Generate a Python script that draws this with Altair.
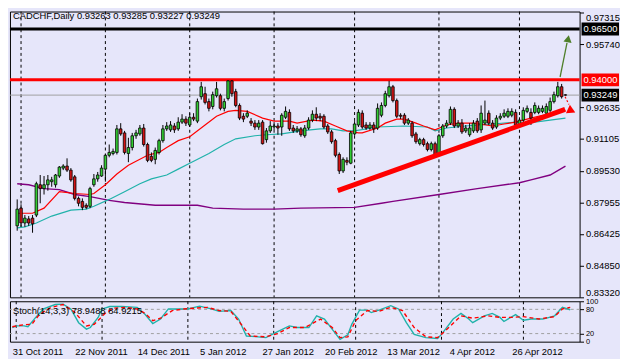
import altair as alt
import pandas as pd

# ---------------- data ----------------
opens = [
    0.8682, 0.8769, 0.8696, 0.8716, 0.8720, 0.8735, 0.8884, 0.8865, 0.8884, 0.8899,
    0.8884, 0.8927, 0.8966, 0.8976, 0.8956, 0.8923, 0.8817, 0.8802, 0.8783, 0.8778,
    0.8884, 0.8913, 0.8927, 0.8961, 0.9029, 0.9038, 0.9043, 0.9159, 0.9139, 0.9038,
    0.9067, 0.9125, 0.9134, 0.9163, 0.9082, 0.9024, 0.9009, 0.9043, 0.9101, 0.9159,
    0.9154, 0.9173, 0.9159, 0.9192, 0.9207, 0.9178, 0.9216, 0.9197, 0.9317, 0.9332,
    0.9293, 0.9269, 0.9322, 0.9322, 0.9260, 0.9308, 0.9395, 0.9342, 0.9274, 0.9221,
    0.9221, 0.9197, 0.9187, 0.9168, 0.9192, 0.9106, 0.9149, 0.9168, 0.9173, 0.9168,
    0.9216, 0.9240, 0.9163, 0.9149, 0.9159, 0.9125, 0.9163, 0.9202, 0.9231, 0.9221,
    0.9221, 0.9173, 0.9144, 0.9101, 0.9033, 0.8952, 0.9004, 0.8990, 0.9134, 0.9178,
    0.9236, 0.9178, 0.9163, 0.9178, 0.9163, 0.9226, 0.9274, 0.9322, 0.9366, 0.9298,
    0.9226, 0.9226, 0.9187, 0.9187, 0.9134, 0.9086, 0.9106, 0.9086, 0.9057, 0.9086,
    0.9033, 0.9125, 0.9173, 0.9187, 0.9255, 0.9173, 0.9187, 0.9149, 0.9130, 0.9149,
    0.9197, 0.9154, 0.9187, 0.9236, 0.9187, 0.9168, 0.9212, 0.9221, 0.9221, 0.9226,
    0.9240, 0.9173, 0.9202, 0.9245, 0.9240, 0.9240, 0.9240, 0.9245, 0.9236, 0.9250,
    0.9293, 0.9322, 0.9366, 0.93263,
]
highs = [
    0.8812, 0.8788, 0.8735, 0.8730, 0.8735, 0.8899, 0.8932, 0.8927, 0.8932, 0.8923,
    0.8937, 0.8976, 0.8985, 0.9014, 0.8966, 0.8932, 0.8826, 0.8817, 0.8793, 0.8874,
    0.8937, 0.8947, 0.8980, 0.9033, 0.9082, 0.9062, 0.9178, 0.9187, 0.9149, 0.9115,
    0.9139, 0.9154, 0.9178, 0.9183, 0.9091, 0.9043, 0.9067, 0.9110, 0.9178, 0.9192,
    0.9197, 0.9187, 0.9216, 0.9231, 0.9221, 0.9236, 0.9236, 0.9308, 0.9390, 0.9366,
    0.9308, 0.9342, 0.9390, 0.9332, 0.9308, 0.9399, 0.9399, 0.9356, 0.9284, 0.9236,
    0.9250, 0.9212, 0.9202, 0.9202, 0.9202, 0.9163, 0.9197, 0.9192, 0.9187, 0.9236,
    0.9269, 0.9255, 0.9178, 0.9173, 0.9168, 0.9178, 0.9216, 0.9250, 0.9265, 0.9236,
    0.9231, 0.9183, 0.9154, 0.9110, 0.9043, 0.9019, 0.9019, 0.9149, 0.9197, 0.9255,
    0.9250, 0.9192, 0.9192, 0.9192, 0.9284, 0.9289, 0.9346, 0.9395, 0.9375, 0.9308,
    0.9236, 0.9236, 0.9212, 0.9197, 0.9144, 0.9115, 0.9115, 0.9096, 0.9096, 0.9096,
    0.9134, 0.9183, 0.9202, 0.9269, 0.9265, 0.9202, 0.9207, 0.9178, 0.9187, 0.9202,
    0.9212, 0.9274, 0.9298, 0.9250, 0.9202, 0.9226, 0.9236, 0.9255, 0.9260, 0.9260,
    0.9255, 0.9216, 0.9265, 0.9274, 0.9260, 0.9289, 0.9274, 0.9274, 0.9284, 0.9313,
    0.9342, 0.9390, 0.9380, 0.93285,
]
lows = [
    0.8658, 0.8677, 0.8677, 0.8682, 0.8648, 0.8725, 0.8793, 0.8836, 0.8855, 0.8874,
    0.8870, 0.8918, 0.8956, 0.8947, 0.8899, 0.8807, 0.8778, 0.8759, 0.8764, 0.8769,
    0.8874, 0.8899, 0.8923, 0.8899, 0.9019, 0.9029, 0.9033, 0.9125, 0.9033, 0.8995,
    0.9053, 0.9110, 0.9125, 0.9072, 0.8995, 0.8995, 0.8985, 0.9033, 0.9091, 0.9149,
    0.9144, 0.9139, 0.9149, 0.9183, 0.9173, 0.9168, 0.9197, 0.9187, 0.9303, 0.9279,
    0.9245, 0.9255, 0.9313, 0.9250, 0.9245, 0.9298, 0.9317, 0.9265, 0.9202, 0.9192,
    0.9212, 0.9173, 0.9154, 0.9154, 0.9082, 0.9091, 0.9139, 0.9154, 0.9130, 0.9125,
    0.9207, 0.9149, 0.9139, 0.9139, 0.9120, 0.9115, 0.9154, 0.9192, 0.9197, 0.9197,
    0.9159, 0.9134, 0.9086, 0.9019, 0.8937, 0.8942, 0.8980, 0.8985, 0.9125, 0.9168,
    0.9159, 0.9154, 0.9154, 0.9139, 0.9154, 0.9216, 0.9265, 0.9313, 0.9289, 0.9212,
    0.9207, 0.9178, 0.9178, 0.9115, 0.9086, 0.9077, 0.9072, 0.9048, 0.9048, 0.9024,
    0.9029, 0.9115, 0.9163, 0.9178, 0.9163, 0.9163, 0.9134, 0.9139, 0.9120, 0.9139,
    0.9139, 0.9139, 0.9178, 0.9178, 0.9154, 0.9159, 0.9202, 0.9212, 0.9212, 0.9216,
    0.9168, 0.9163, 0.9192, 0.9236, 0.9178, 0.9231, 0.9231, 0.9236, 0.9226, 0.9240,
    0.9284, 0.9313, 0.9308, 0.93227,
]
closes = [
    0.8764, 0.8696, 0.8720, 0.8696, 0.8692, 0.8889, 0.8865, 0.8884, 0.8908, 0.8908,
    0.8932, 0.8971, 0.8976, 0.8956, 0.8908, 0.8817, 0.8793, 0.8773, 0.8773, 0.8865,
    0.8913, 0.8932, 0.8966, 0.9029, 0.9043, 0.9048, 0.9159, 0.9134, 0.9043, 0.9067,
    0.9125, 0.9139, 0.9163, 0.9082, 0.9004, 0.9004, 0.9053, 0.9101, 0.9159, 0.9173,
    0.9178, 0.9154, 0.9192, 0.9207, 0.9187, 0.9216, 0.9207, 0.9293, 0.9366, 0.9289,
    0.9260, 0.9327, 0.9356, 0.9260, 0.9293, 0.9395, 0.9332, 0.9274, 0.9212, 0.9207,
    0.9236, 0.9187, 0.9168, 0.9187, 0.9086, 0.9149, 0.9173, 0.9173, 0.9163, 0.9226,
    0.9245, 0.9159, 0.9149, 0.9159, 0.9130, 0.9163, 0.9202, 0.9231, 0.9212, 0.9212,
    0.9168, 0.9144, 0.9096, 0.9029, 0.8952, 0.9009, 0.8995, 0.9139, 0.9183, 0.9240,
    0.9168, 0.9163, 0.9178, 0.9159, 0.9260, 0.9274, 0.9332, 0.9366, 0.9298, 0.9221,
    0.9221, 0.9187, 0.9202, 0.9125, 0.9096, 0.9106, 0.9082, 0.9057, 0.9086, 0.9033,
    0.9125, 0.9173, 0.9187, 0.9255, 0.9173, 0.9187, 0.9144, 0.9163, 0.9163, 0.9187,
    0.9149, 0.9236, 0.9202, 0.9187, 0.9163, 0.9212, 0.9221, 0.9236, 0.9245, 0.9245,
    0.9178, 0.9202, 0.9250, 0.9260, 0.9212, 0.9274, 0.9260, 0.9260, 0.9269, 0.9293,
    0.9327, 0.9366, 0.9317, 0.93249,
]

ma_red_bars = [0, 4, 7, 11, 15, 19, 20, 23, 26, 29, 34, 37, 39, 42, 45, 49, 52, 55, 57, 60,
               64, 67, 71, 73, 77, 80, 83, 86, 89, 90, 94, 96, 99, 101, 104, 106, 109, 112,
               115, 119, 124, 127, 130, 134, 137, 140, 143]
ma_red_vals = [0.8744, 0.8744, 0.8769, 0.8850, 0.8841, 0.8836, 0.8841, 0.8884, 0.8937, 0.8980,
               0.9029, 0.9043, 0.9067, 0.9101, 0.9120, 0.9178, 0.9221, 0.9245, 0.9250, 0.9245,
               0.9212, 0.9197, 0.9197, 0.9187, 0.9202, 0.9197, 0.9173, 0.9149, 0.9139, 0.9139,
               0.9163, 0.9187, 0.9207, 0.9207, 0.9187, 0.9173, 0.9154, 0.9178, 0.9187, 0.9187,
               0.9173, 0.9183, 0.9192, 0.9212, 0.9226, 0.9236, 0.9250]
ma_teal_bars = [0, 2, 5, 9, 14, 18, 20, 24, 28, 32, 35, 39, 42, 45, 50, 54, 57, 62, 65, 69,
                74, 79, 82, 85, 88, 94, 101, 107, 109, 112, 117, 124, 130, 133, 137, 143]
ma_teal_vals = [0.8672, 0.8677, 0.8696, 0.8730, 0.8759, 0.8764, 0.8778, 0.8812, 0.8850, 0.8889,
                0.8913, 0.8932, 0.8961, 0.8990, 0.9038, 0.9082, 0.9110, 0.9125, 0.9130, 0.9134,
                0.9149, 0.9159, 0.9159, 0.9149, 0.9149, 0.9168, 0.9173, 0.9168, 0.9149, 0.9163,
                0.9173, 0.9183, 0.9192, 0.9187, 0.9197, 0.9212]
ma_purple_bars = [0, 3, 7, 11, 15, 19, 24, 28, 36, 47, 51, 59, 67, 74, 88, 95, 98, 110, 120,
                  131, 134, 139, 143]
ma_purple_vals = [0.8889, 0.8884, 0.8865, 0.8860, 0.8836, 0.8826, 0.8807, 0.8797, 0.8783, 0.8783,
                  0.8769, 0.8764, 0.8764, 0.8769, 0.8773, 0.8793, 0.8802, 0.8836, 0.8865, 0.8894,
                  0.8908, 0.8932, 0.8976]

stoch_k_bars = [0, 1, 3, 4, 6, 8, 11, 13, 15, 17, 19, 20, 22, 23, 25, 28, 32, 34, 36, 38,
                40, 42, 45, 48, 51, 53, 56, 58, 60, 63, 65, 68, 71, 73, 76, 78, 80, 83, 84, 86,
                87, 89, 91, 92, 94, 97, 99, 101, 103, 106, 109, 110, 113, 115, 117, 118, 121,
                123, 125, 126, 129, 131, 133, 136, 139, 141, 143]
stoch_k_vals = [35, 39, 39, 37, 60, 81, 92, 93, 81, 47, 31, 35, 60, 81, 87, 87, 85, 68, 45, 56,
                81, 81, 81, 88, 81, 75, 77, 56, 14, 12, 10, 25, 39, 35, 35, 64, 56, 18, 6, 17,
                43, 78, 78, 72, 78, 89, 81, 47, 18, 10, 8, 18, 56, 70, 56, 47, 64,
                70, 60, 50, 67, 53, 56, 56, 64, 85, 78.9488]
stoch_d_bars = [0, 3, 5, 7, 10, 13, 16, 19, 21, 24, 26, 29, 32, 34, 36, 38, 41, 44, 47, 50,
                53, 56, 59, 61, 65, 68, 71, 75, 79, 82, 84, 86, 88, 91, 94, 97, 100, 103, 106,
                109, 111, 115, 118, 122, 125, 128, 131, 135, 139, 141, 143]
stoch_d_vals = [37, 42, 43, 68, 85, 92, 73, 39, 43, 72, 83, 85, 81, 70, 52, 58, 77, 81, 83, 85,
                77, 75, 39, 14, 12, 20, 35, 35, 56, 35, 10, 12, 52, 77, 75, 85, 77, 35, 12,
                10, 27, 64, 58, 64, 60, 60, 62, 56, 62, 81, 84.9215]
stoch_levels = [20, 80]

date_labels = ["31 Oct 2011", "22 Nov 2011", "14 Dec 2011", "5 Jan 2012", "27 Jan 2012",
               "20 Feb 2012", "13 Mar 2012", "4 Apr 2012", "26 Apr 2012"]
label_every = 16
grid_bars = [1, 23, 45, 67, 88, 110, 131]
price_ticks = [0.97315, 0.95740, 0.92635, 0.91105, 0.89530, 0.87955, 0.86425, 0.84850, 0.83320]
stoch_ticks = [0, 20, 80, 100]

level_prices = [0.96500, 0.94000]
level_colors = ["#000000", "#FF0000"]
bid_price = 0.93249

trend_bars = [83.6, 142.9]
trend_vals = [0.8855, 0.9255]
green_arrow_bars = [141.6, 143.4]
green_arrow_vals = [0.9414, 0.9582]
red_arrow_bars = [142.9, 143.9]
red_arrow_vals = [0.9317, 0.9279]
head_bars = [143.7, 144.6]
head_vals = [0.9602, 0.9248]

header = "CADCHF,Daily  0.93263 0.93285 0.93227 0.93249"
stoch_title = "Stoch(14,3,3) 78.9488 84.9215"

# ---------------- styling ----------------
W, H, SH = 578, 290, 41
BG = "#E6E6FA"
FONT = "Liberation Sans"
FS = 9.5
GREEN = "#32CD32"
RED = "#D21414"

xs = alt.Scale(domain=[-0.6, 145.4], nice=False, zero=False)
ys = alt.Scale(domain=[0.83304, 0.97360], nice=False, zero=False)
ss = alt.Scale(domain=[0, 100], nice=False, zero=False)

yaxis = alt.Axis(orient="right", values=price_ticks, format=".5f", title=None, grid=False,
                 domain=False, ticks=True, tickSize=4, tickColor="black", labelFont=FONT,
                 labelFontSize=FS, labelColor="black", labelPadding=2, labelOverlap=False,
                 labelFlush=1.5, labelBound=False)
label_js = "[" + ",".join("'" + d + "'" for d in date_labels) + "]"
xaxis = alt.Axis(orient="bottom", values=[i * label_every for i in range(len(date_labels))],
                 labelExpr=label_js + f"[round(datum.value/{label_every})]", title=None,
                 grid=False, domain=False, ticks=False, labelAlign="left",
                 labelBaseline="top", labelPadding=5, labelFont=FONT, labelFontSize=FS,
                 labelColor="black", labelFlush=False, labelOverlap=False, labelBound=False)
saxis = alt.Axis(orient="right", values=stoch_ticks, title=None, grid=False, domain=False,
                 tickSize=4, tickColor="black", labelFont=FONT, labelFontSize=7.5,
                 labelColor="black", labelPadding=2, labelOverlap=False, labelFlush=False)


def XM():
    return alt.X("bar:Q", scale=xs, axis=None)


def YM(field):
    return alt.Y(field, scale=ys, axis=yaxis)


def XS():
    return alt.X("bar:Q", scale=xs, axis=xaxis)


def YS(field):
    return alt.Y(field, scale=ss, axis=saxis)


candles = pd.DataFrame({"bar": list(range(len(closes))), "open": opens, "high": highs,
                        "low": lows, "close": closes})
candles["dir"] = ["up" if c >= o else "down" for o, c in zip(opens, closes)]

grid = alt.Chart(pd.DataFrame({"bar": grid_bars})).mark_rule(
    color="black", strokeDash=[3, 3], strokeWidth=1).encode(x=XM())

levels_df = pd.DataFrame({"price": level_prices, "col": level_colors})
level_rules = alt.Chart(levels_df).mark_rule(strokeWidth=3).encode(
    y=YM("price:Q"), color=alt.Color("col:N", scale=None))

bid_rule = alt.Chart(pd.DataFrame({"price": [bid_price]})).mark_rule(
    color="#A0A0A0", strokeWidth=1).encode(y=YM("price:Q"))


def line(bars_, vals, color, width, dash=None):
    kw = dict(color=color, strokeWidth=width, strokeCap="butt")
    if dash:
        kw["strokeDash"] = dash
    return alt.Chart(pd.DataFrame({"bar": bars_, "price": vals})).mark_line(**kw).encode(
        x=XM(), y=YM("price:Q"))


ma_purple = line(ma_purple_bars, ma_purple_vals, "#800080", 1.4)
ma_teal = line(ma_teal_bars, ma_teal_vals, "#20B2AA", 1.2)
ma_red = line(ma_red_bars, ma_red_vals, "#FF0000", 1.2)

wicks = alt.Chart(candles).mark_rule(color="black", strokeWidth=1).encode(
    x=XM(), y=YM("low:Q"), y2="high:Q")
bodies = alt.Chart(candles).mark_bar(width=2.6, stroke="black", strokeWidth=0.8).encode(
    x=XM(), y=YM("open:Q"), y2="close:Q",
    color=alt.Color("dir:N", scale=alt.Scale(domain=["up", "down"], range=[GREEN, RED]),
                    legend=None))

trend = line(trend_bars, trend_vals, "#FF0000", 5)
green_arrow = line(green_arrow_bars, green_arrow_vals, "#4F7F2A", 1.3)
red_arrow = line(red_arrow_bars, red_arrow_vals, "#FF0000", 1.2, dash=[2, 2])

head_g = alt.Chart(pd.DataFrame({"bar": head_bars[:1], "price": head_vals[:1]})).mark_point(
    shape="triangle-up", filled=True, size=70, opacity=1, angle=10, color="#4F7F2A").encode(
    x=XM(), y=YM("price:Q"))
head_r = alt.Chart(pd.DataFrame({"bar": head_bars[1:], "price": head_vals[1:]})).mark_point(
    shape="triangle-right", filled=True, size=90, opacity=1, angle=25, color="#FF0000").encode(
    x=XM(), y=YM("price:Q"))

header_txt = alt.Chart(pd.DataFrame({"t": [header]})).mark_text(
    align="left", baseline="top", font=FONT, fontSize=FS, color="black").encode(
    x=alt.value(3), y=alt.value(0), text="t:N")

box_df = pd.DataFrame({"price": level_prices + [bid_price],
                       "bg": level_colors + ["#000000"],
                       "label": [f"{p:.5f}" for p in level_prices + [bid_price]]})
boxes = alt.Chart(box_df).mark_tick(thickness=13, size=38, opacity=1).encode(
    y=YM("price:Q"), x=alt.value(W + 21), color=alt.Color("bg:N", scale=None))
box_txt = alt.Chart(box_df).mark_text(
    align="left", baseline="middle", font=FONT, fontSize=FS, color="white").encode(
    y=YM("price:Q"), x=alt.value(W + 4), text="label:N")

main = alt.layer(grid, level_rules, bid_rule, ma_purple, ma_teal, ma_red, wicks, bodies,
                 trend, green_arrow, red_arrow, head_g, head_r, header_txt, boxes,
                 box_txt).properties(width=W, height=H)

# ---------------- stochastic panel ----------------
s_grid = alt.Chart(pd.DataFrame({"bar": grid_bars})).mark_rule(
    color="black", strokeDash=[3, 3], strokeWidth=1).encode(x=XS())
s_levels = alt.Chart(pd.DataFrame({"v": stoch_levels})).mark_rule(
    color="#A0A0A0", strokeDash=[3, 3], strokeWidth=1).encode(y=YS("v:Q"))
k_line = alt.Chart(pd.DataFrame({"bar": stoch_k_bars, "v": stoch_k_vals})).mark_line(
    color="#20B2AA", strokeWidth=1.4).encode(x=XS(), y=YS("v:Q"))
d_line = alt.Chart(pd.DataFrame({"bar": stoch_d_bars, "v": stoch_d_vals})).mark_line(
    color="#FF0000", strokeWidth=1.4, strokeDash=[4, 3]).encode(x=XS(), y=YS("v:Q"))
s_txt = alt.Chart(pd.DataFrame({"t": [stoch_title]})).mark_text(
    align="left", baseline="middle", font=FONT, fontSize=FS, color="black").encode(
    x=alt.value(3), y=alt.value(10), text="t:N")

stoch = alt.layer(s_grid, s_levels, k_line, d_line, s_txt).properties(width=W, height=SH)

chart = alt.vconcat(main, stoch, spacing=4, bounds="flush").resolve_scale(
    x="independent", y="independent").properties(
    padding={"left": 0, "top": 0, "right": 0, "bottom": 0}, background=BG
).configure_view(stroke="black", strokeWidth=1)

chart.save("out.html", embed_options={"renderer": "svg", "actions": False})
